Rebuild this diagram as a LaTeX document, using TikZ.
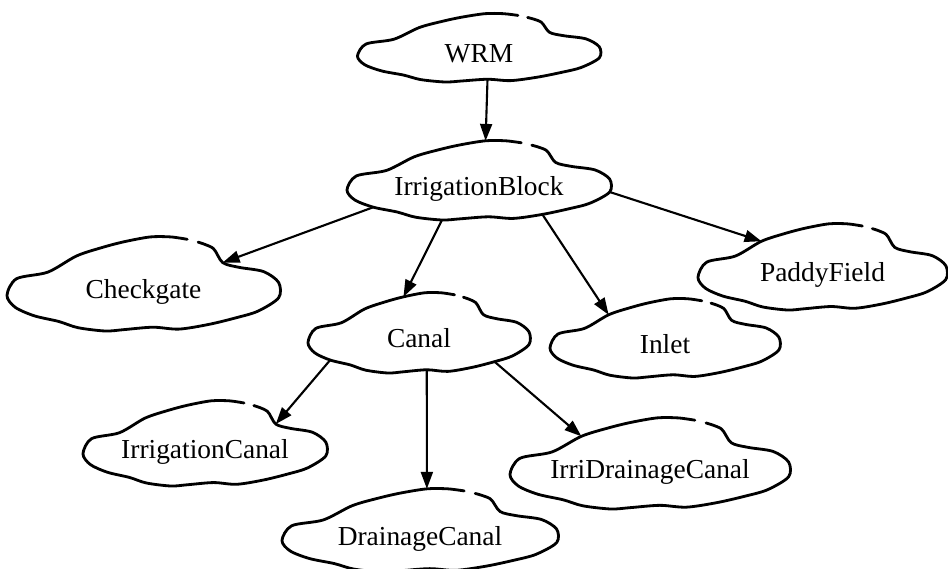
\documentclass[tikz,border=0pt]{standalone}
\usepackage{fontspec}
\setmainfont{Liberation Serif}
\usepackage{tikz}
\usetikzlibrary{arrows.meta}

\makeatletter
\newdimen\blobrx
\newdimen\blobry
\newcommand\blobpt[2]{%
  \pgfextractx{\blobrx}{\radius}%
  \pgfextracty{\blobry}{\radius}%
  \pgfpointadd{\centerpoint}{\pgfqpoint{#1\blobrx}{#2\blobry}}}
\pgfdeclareshape{blob}{%
  \savedanchor\centerpoint{%
    \pgf@x=.5\wd\pgfnodeparttextbox
    \pgf@y=.5\ht\pgfnodeparttextbox
    \advance\pgf@y by-.5\dp\pgfnodeparttextbox}%
  \savedanchor\radius{%
    \pgfmathsetlength\pgf@xa{\pgfkeysvalueof{/pgf/minimum width}}%
    \pgfmathsetlength\pgf@ya{\pgfkeysvalueof{/pgf/minimum height}}%
    \pgf@x=.5\pgf@xa
    \pgf@y=.5\pgf@ya}%
  \anchor{center}{\centerpoint}%
  \anchor{text}{\pgfpointorigin}%
  \anchor{top}{\blobpt{0.05}{0.98}}%
  \anchor{upl}{\blobpt{-0.14}{0.88}}%
  \anchor{upll}{\blobpt{-0.49}{0.58}}%
  \anchor{upr}{\blobpt{0.58}{0.44}}%
  \anchor{tip}{\blobpt{0.99}{-0.30}}%
  \anchor{lowr}{\blobpt{0.68}{-0.72}}%
  \anchor{botr}{\blobpt{0.48}{-0.86}}%
  \anchor{bot}{\blobpt{0.07}{-0.92}}%
  \anchor{botl}{\blobpt{-0.28}{-1.0}}%
  \anchor{lowl}{\blobpt{-0.80}{-0.68}}%
  \backgroundpath{%
    \pgfsetplottension{0.5}%
    \pgfplothandlercurveto
    \pgfplotstreamstart
    \pgfplotstreampoint{\blobpt{0.40}{0.87}}%
    \pgfplotstreampoint{\blobpt{0.51}{0.74}}%
    \pgfplotstreampoint{\blobpt{0.58}{0.44}}%
    \pgfplotstreampoint{\blobpt{0.70}{0.34}}%
    \pgfplotstreampoint{\blobpt{0.88}{0.25}}%
    \pgfplotstreampoint{\blobpt{0.99}{0.02}}%
    \pgfplotstreampoint{\blobpt{0.99}{-0.30}}%
    \pgfplotstreampoint{\blobpt{0.84}{-0.58}}%
    \pgfplotstreampoint{\blobpt{0.68}{-0.72}}%
    \pgfplotstreampoint{\blobpt{0.48}{-0.86}}%
    \pgfplotstreampoint{\blobpt{0.26}{-0.96}}%
    \pgfplotstreampoint{\blobpt{0.07}{-0.92}}%
    \pgfplotstreampoint{\blobpt{-0.14}{-0.97}}%
    \pgfplotstreampoint{\blobpt{-0.28}{-1.0}}%
    \pgfplotstreampoint{\blobpt{-0.48}{-0.93}}%
    \pgfplotstreampoint{\blobpt{-0.62}{-0.80}}%
    \pgfplotstreampoint{\blobpt{-0.80}{-0.68}}%
    \pgfplotstreampoint{\blobpt{-0.94}{-0.50}}%
    \pgfplotstreampoint{\blobpt{-1.0}{-0.25}}%
    \pgfplotstreampoint{\blobpt{-0.93}{0.10}}%
    \pgfplotstreampoint{\blobpt{-0.70}{0.24}}%
    \pgfplotstreampoint{\blobpt{-0.49}{0.58}}%
    \pgfplotstreampoint{\blobpt{-0.30}{0.76}}%
    \pgfplotstreampoint{\blobpt{-0.14}{0.88}}%
    \pgfplotstreampoint{\blobpt{0.05}{0.98}}%
    \pgfplotstreampoint{\blobpt{0.20}{0.98}}%
    \pgfplotstreampoint{\blobpt{0.32}{0.93}}%
    \pgfplotstreamend}%
}
\makeatother

\begin{document}
\begin{tikzpicture}[x=0.025cm, y=-0.025cm,
  cloudnode/.style={shape=blob, draw, line width=2pt, line cap=round, line join=round,
    inner sep=0pt, outer sep=0pt, font=\fontsize{19.5}{23}\selectfont,
    text height=25.9pt, text depth=3.9pt},
  link/.style={-{Triangle[length=12pt,width=8.5pt]}, line width=1.5pt}]
\useasboundingbox (0,0) rectangle (948,569);

\node[cloudnode, minimum width=6.075cm, minimum height=1.725cm] (wrm) at (479,47.5) {WRM};
\node[cloudnode, minimum width=6.6cm, minimum height=2.0cm] (block) at (479,180) {IrrigationBlock};
\node[cloudnode, minimum width=6.825cm, minimum height=2.375cm] (checkgate) at (143.5,283.5) {Checkgate};
\node[cloudnode, minimum width=6.225cm, minimum height=2.175cm] (paddy) at (822.5,266.5) {PaddyField};
\node[cloudnode, minimum width=5.55cm, minimum height=2.025cm] (canal) at (419,332.5) {Canal};
\node[cloudnode, minimum width=5.75cm, minimum height=2.0cm] (inlet) at (665,338) {Inlet};
\node[cloudnode, minimum width=6.1cm, minimum height=2.15cm] (irrcanal) at (205,443) {IrrigationCanal};
\node[cloudnode, minimum width=7.0cm, minimum height=2.3cm] (irridrain) at (650,463) {IrriDrainageCanal};
\node[cloudnode, minimum width=6.9cm, minimum height=2.1cm] (draincanal) at (420,530) {DrainageCanal};

\draw[link] (wrm.bot) -- (block.top);
\draw[link] (block.lowl) -- (checkgate.upr);
\draw[link] (block.botl) -- (canal.upl);
\draw[link] (block.botr) -- (inlet.upll);
\draw[link] (block.tip) -- (paddy.upll);
\draw[link] (canal.lowl) -- (irrcanal.upr);
\draw[link] (canal.bot) -- (draincanal.top);
\draw[link] (canal.lowr) -- (irridrain.upll);
\end{tikzpicture}
\end{document}
